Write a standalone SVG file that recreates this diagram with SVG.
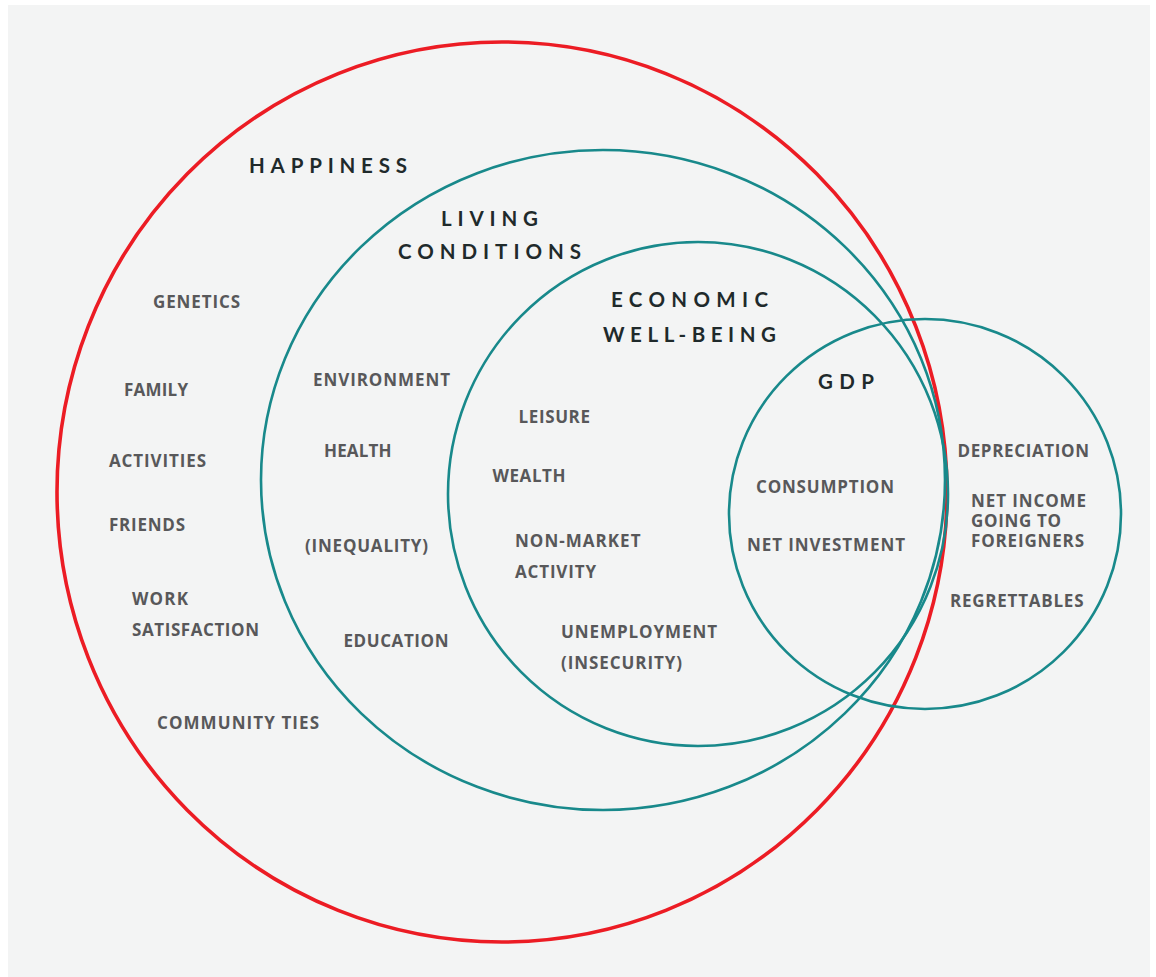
<svg xmlns="http://www.w3.org/2000/svg" width="1156" height="977" viewBox="0 0 1156 977">
<style>
.bg{fill:#f3f4f4}
.ring{fill:none;stroke:#18898b;stroke-width:2.6}
.red{fill:none;stroke:#ec1c24;stroke-width:3.6}
.title{font-family:Lato,"Open Sans",sans-serif;font-weight:700;font-size:20.5px;fill:#1f2a2b}
.lbl{font-family:"Open Sans","Noto Sans",sans-serif;font-weight:700;font-size:17px;fill:#58585a}
</style>
<rect width="1156" height="977" fill="#ffffff"/>
<rect class="bg" x="8" y="5" width="1142" height="972"/>
<g id="happiness">
<ellipse class="red" cx="502" cy="492" rx="445" ry="450"/>
<text class="title" x="249" y="173" textLength="158" lengthAdjust="spacing">HAPPINESS</text>
<text class="lbl" x="153" y="308" textLength="87" lengthAdjust="spacing">GENETICS</text>
<text class="lbl" x="124" y="396" textLength="64" lengthAdjust="spacing">FAMILY</text>
<text class="lbl" x="109" y="467" textLength="97" lengthAdjust="spacing">ACTIVITIES</text>
<text class="lbl" x="109" y="531" textLength="76" lengthAdjust="spacing">FRIENDS</text>
<text class="lbl" x="132" y="605" textLength="56" lengthAdjust="spacing">WORK</text>
<text class="lbl" x="132" y="636" textLength="127" lengthAdjust="spacing">SATISFACTION</text>
<text class="lbl" x="157" y="729" textLength="162" lengthAdjust="spacing">COMMUNITY TIES</text>
</g>
<g id="living-conditions">
<ellipse class="ring" cx="603" cy="480" rx="342" ry="330"/>
<text class="title" x="441" y="226" textLength="97" lengthAdjust="spacing">LIVING</text>
<text class="title" x="398" y="259" textLength="183" lengthAdjust="spacing">CONDITIONS</text>
<text class="lbl" x="313" y="385.5" textLength="137" lengthAdjust="spacing">ENVIRONMENT</text>
<text class="lbl" x="324" y="457" textLength="67.5" lengthAdjust="spacing">HEALTH</text>
<text class="lbl" x="305" y="551.5" textLength="123" lengthAdjust="spacing">(INEQUALITY)</text>
<text class="lbl" x="343.5" y="647" textLength="105" lengthAdjust="spacing">EDUCATION</text>
</g>
<g id="economic-well-being">
<ellipse class="ring" cx="698" cy="494" rx="250" ry="252"/>
<text class="title" x="611" y="307" textLength="157" lengthAdjust="spacing">ECONOMIC</text>
<text class="title" x="603" y="342" textLength="173" lengthAdjust="spacing">WELL-BEING</text>
<text class="lbl" x="518.5" y="423" textLength="71.5" lengthAdjust="spacing">LEISURE</text>
<text class="lbl" x="492.5" y="481.5" textLength="73" lengthAdjust="spacing">WEALTH</text>
<text class="lbl" x="515" y="547" textLength="125.5" lengthAdjust="spacing">NON-MARKET</text>
<text class="lbl" x="515" y="578" textLength="81" lengthAdjust="spacing">ACTIVITY</text>
<text class="lbl" x="561" y="638" textLength="156" lengthAdjust="spacing">UNEMPLOYMENT</text>
<text class="lbl" x="561" y="669" textLength="121" lengthAdjust="spacing">(INSECURITY)</text>
</g>
<g id="gdp">
<ellipse class="ring" cx="925" cy="514" rx="196" ry="195"/>
<text class="title" x="818" y="389" textLength="56" lengthAdjust="spacing">GDP</text>
<text class="lbl" x="756" y="493" textLength="138" lengthAdjust="spacing">CONSUMPTION</text>
<text class="lbl" x="747" y="550.5" textLength="158" lengthAdjust="spacing">NET INVESTMENT</text>
<text class="lbl" x="957.5" y="456.5" textLength="131.5" lengthAdjust="spacing">DEPRECIATION</text>
<text class="lbl" x="971" y="506.5" textLength="115" lengthAdjust="spacing">NET INCOME</text>
<text class="lbl" x="971" y="527" textLength="90" lengthAdjust="spacing">GOING TO</text>
<text class="lbl" x="971" y="547" textLength="113" lengthAdjust="spacing">FOREIGNERS</text>
<text class="lbl" x="950" y="607" textLength="133.5" lengthAdjust="spacing">REGRETTABLES</text>
</g>
<g id="connectors"></g>
</svg>
